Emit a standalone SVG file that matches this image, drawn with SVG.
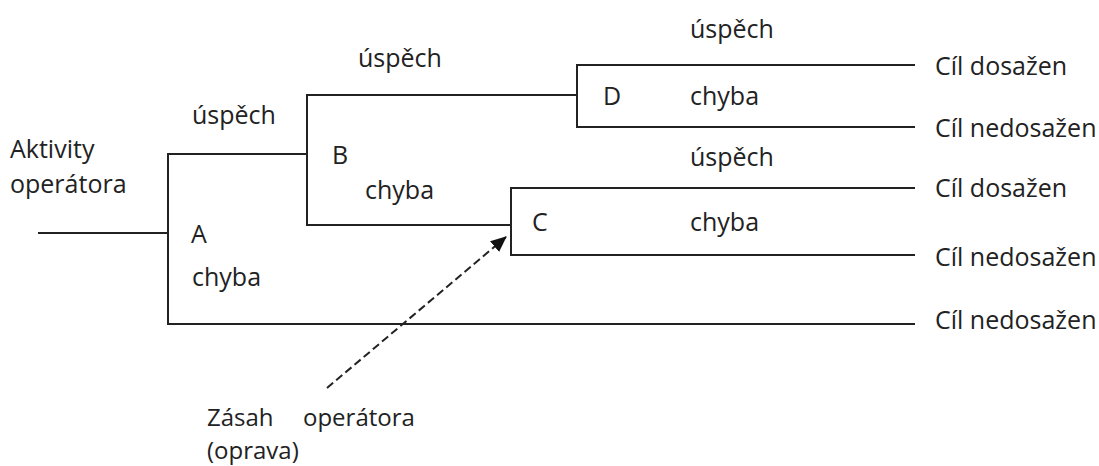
<svg xmlns="http://www.w3.org/2000/svg" width="1099" height="466" viewBox="0 0 1099 466">
<style>
.l{stroke:#222;stroke-width:2;fill:none}
.t{font-family:"Open Sans",sans-serif;font-size:25px;fill:#222}
.s{font-size:24px}
</style>
<defs>
<marker id="ah" markerWidth="16" markerHeight="14" refX="15" refY="7" orient="auto" markerUnits="userSpaceOnUse" viewBox="0 0 16 14">
<path d="M0,0 L16,7 L0,14 z" fill="#111"/>
</marker>
</defs>
<rect width="1099" height="466" fill="#fff"/>
<g id="connectors">
<path class="l" d="M38,233 H168"/>
<path class="l" d="M307,154 H168 V324 H915"/>
<path class="l" d="M577,95 H307 V225 H511"/>
<path class="l" d="M915,65 H577 V127 H915"/>
<path class="l" d="M915,188 H511 V255 H915"/>
<path d="M327,388 L506,237" stroke="#222" stroke-width="2" stroke-dasharray="8,4" fill="none" marker-end="url(#ah)"/>
</g>
<g id="start"><text class="t" x="10" y="158">Aktivity</text><text class="t" x="10" y="193">operátora</text></g>
<g id="nodeA"><text class="t" x="191" y="243">A</text><text class="t" x="192" y="124">úspěch</text><text class="t" x="192" y="286">chyba</text></g>
<g id="nodeB"><text class="t" x="332" y="164">B</text><text class="t" x="358" y="67">úspěch</text><text class="t" x="365" y="199">chyba</text></g>
<g id="nodeD"><text class="t" x="603" y="105">D</text><text class="t" x="690" y="38">úspěch</text><text class="t" x="690" y="105">chyba</text></g>
<g id="nodeC"><text class="t" x="532" y="231">C</text><text class="t" x="690" y="166">úspěch</text><text class="t" x="690" y="231">chyba</text></g>
<g id="outcomes">
<text class="t" x="935" y="75">Cíl dosažen</text>
<text class="t" x="935" y="137">Cíl nedosažen</text>
<text class="t" x="935" y="197">Cíl dosažen</text>
<text class="t" x="935" y="266">Cíl nedosažen</text>
<text class="t" x="935" y="329">Cíl nedosažen</text>
</g>
<g id="intervention"><text class="t s" x="207" y="426">Zásah</text><text class="t s" x="303" y="426">operátora</text><text class="t s" x="207" y="459">(oprava)</text></g>
</svg>
